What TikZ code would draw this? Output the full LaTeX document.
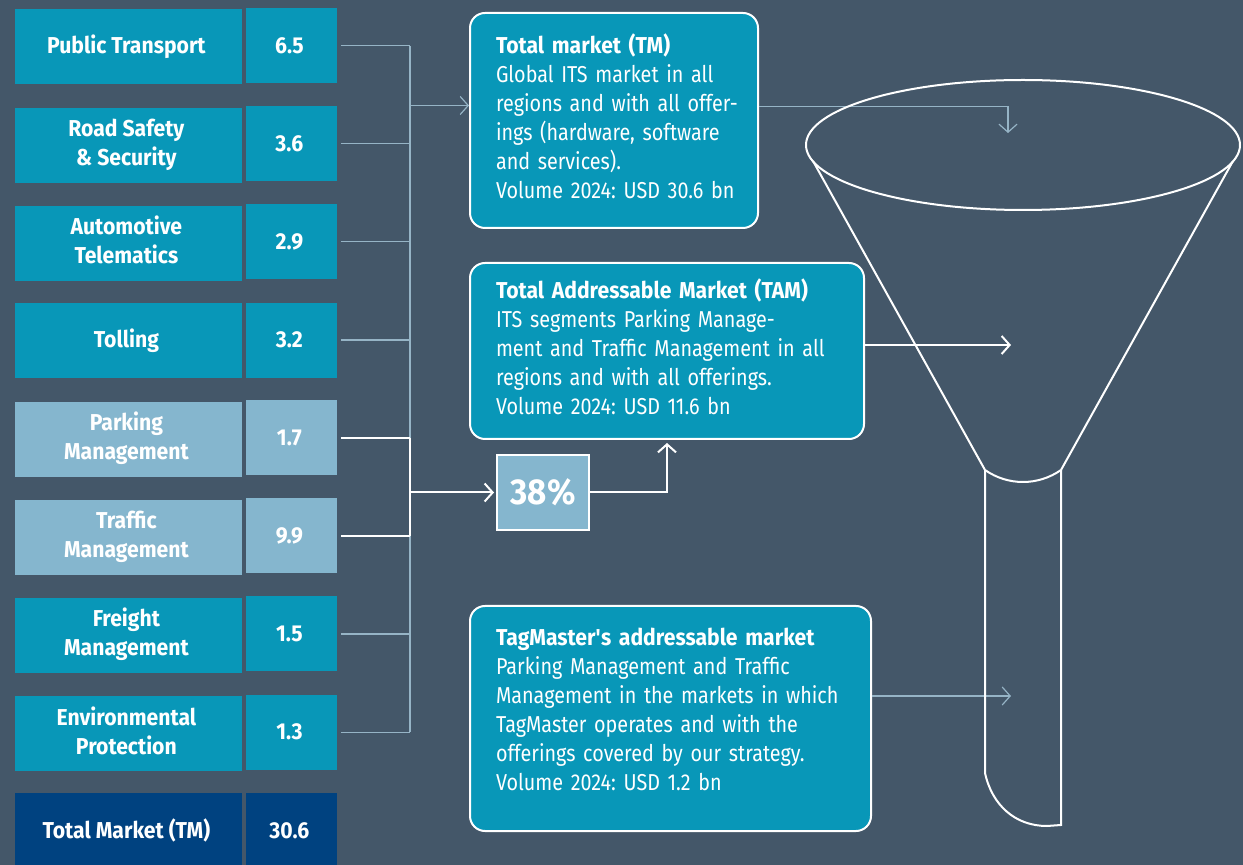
\documentclass[tikz,border=0pt]{standalone}
\usepackage{fontspec}
\setmainfont{Fira Sans}[UprightFeatures={FakeStretch=0.86}, BoldFeatures={FakeStretch=0.92}]
\usetikzlibrary{matrix,positioning,calc,arrows.meta}

\definecolor{slate}{RGB}{68,87,105}
\definecolor{its}{RGB}{8,151,184}
\definecolor{paleblue}{RGB}{133,182,206}
\definecolor{navy}{RGB}{0,66,128}
\definecolor{feedgray}{RGB}{150,180,198}

% two-line cell text
\newcommand\seglines[2]{\begin{tabular}{@{}c@{}}#1\\#2\end{tabular}}
% box text, one line per row
\newcommand\boxlines[1]{\begin{tabular}{@{}l@{}}#1\end{tabular}}
\frenchspacing

\begin{document}
\begin{tikzpicture}[x=0.5pt, y=-0.5pt,
    feed/.style={draw=feedgray, line width=0.6pt},
    hot/.style={draw=white, line width=1pt},
    tip/.style={-{Straight Barb[length=4pt,width=9pt]}},
    funnel/.style={draw=white, line width=1pt},
    mbox/.style={draw=white, line width=1pt, fill=its, rounded corners=7.5pt,
      anchor=north west, align=left, text=white, inner xsep=13pt,
      font=\fontsize{11.5}{14.5}\selectfont}]
\fill[slate] (0,0) rectangle (1243,865);
\useasboundingbox (0,0) rectangle (1243,865);

% segments and their volumes
\matrix (seg) [matrix of nodes, anchor=north west, inner sep=0,
    row sep=10.8pt, column sep=2pt,
    nodes={fill=its, text=white, align=center, inner sep=0,
      minimum height=37.5pt, font=\bfseries\fontsize{11.5}{14.5}\selectfont},
    column 1/.style={nodes={minimum width=113.5pt}},
    column 2/.style={nodes={minimum width=45.5pt}},
    row 5/.style={nodes={fill=paleblue}},
    row 6/.style={nodes={fill=paleblue}},
    row 9/.style={nodes={fill=navy}}] at (15,8) {
  Public Transport                       & 6.5  \\
  \seglines{Road Safety}{\& Security}    & 3.6  \\
  \seglines{Automotive}{Telematics}      & 2.9  \\
  Tolling                                & 3.2  \\
  \seglines{Parking}{Management}         & 1.7  \\
  \seglines{Traffic}{Management}         & 9.9  \\
  \seglines{Freight}{Management}         & 1.5  \\
  \seglines{Environmental}{Protection}   & 1.3  \\
  Total Market (TM)                      & 30.6 \\
};

% market boxes
\node[mbox, text width=118pt, minimum height=107.5pt] (tm) at (469,12)
  {\boxlines{\textbf{Total market (TM)}\\Global ITS market in all\\regions and with all offer-\\ings (hardware, software\\and services).\\Volume 2024: USD 30.6 bn}};
\node[mbox, text width=171pt, minimum height=88pt] (tam) at (469,262)
  {\boxlines{\textbf{Total Addressable Market (TAM)}\\ITS segments Parking Manage-\\ment and Traffic Management in all\\regions and with all offerings.\\Volume 2024: USD 11.6 bn}};
\node[mbox, text width=174.5pt, minimum height=112.5pt] (tmk) at (469,605)
  {\boxlines{\textbf{TagMaster\textquotesingle s addressable market}\\Parking Management and Traffic\\Management in the markets in which\\TagMaster operates and with the\\offerings covered by our strategy.\\Volume 2024: USD 1.2 bn\\[6pt]}};

\node[draw=white, line width=1pt, fill=paleblue, text=white, minimum width=46pt,
  minimum height=37.5pt, font=\bfseries\fontsize{18}{20}\selectfont] (pct) at (543,492.5) {38\%};

\coordinate (bus) at (410,0);
\coordinate (tmin) at ([yshift=7.5pt]tm.west);
\coordinate (tmout) at ([yshift=7pt]tm.east);
\coordinate (mouth) at (1008,133);
\coordinate (cone) at (1011,345);
\coordinate (stem) at (1011,696);

% all segments feed the total market
\foreach \r in {1,2,3,4,7,8}
  \draw[feed] ([xshift=1.5pt]seg-\r-2.east) -- (seg-\r-2.east -| bus);
\draw[feed] (seg-1-2.east -| bus) -- (seg-8-2.east -| bus);
\draw[feed,tip] (bus |- tmin) -- (tmin);

% parking and traffic make up the TAM share
\foreach \r in {5,6}
  \draw[hot] ([xshift=1.5pt]seg-\r-2.east) -- (seg-\r-2.east -| bus);
\draw[hot] (seg-5-2.east -| bus) -- (seg-6-2.east -| bus);
\draw[hot,tip] (bus |- pct.west) -- ([xshift=-1pt]pct.west);
\draw[hot,tip] (pct.east) -| ([yshift=-1.5pt]tam.south);

% into the funnel
\draw[feed,tip] (tmout) -| (mouth);
\draw[hot,tip] (tam.east |- cone) -- (cone);
\draw[feed,tip] (tmk.east |- stem) -- (stem);

% funnel
\draw[funnel] (1023,145) ellipse [x radius=108.5pt, y radius=32.5pt];
\draw[funnel] (813,161) -- (985,470) .. controls (1008,486) and (1038,486) .. (1061,470) -- (1233,161);
\draw[funnel] (985,470) -- (985,773) .. controls (992,805) and (1015,826) .. (1047,826) -- (1061,825) -- (1061,470);
\end{tikzpicture}
\end{document}
